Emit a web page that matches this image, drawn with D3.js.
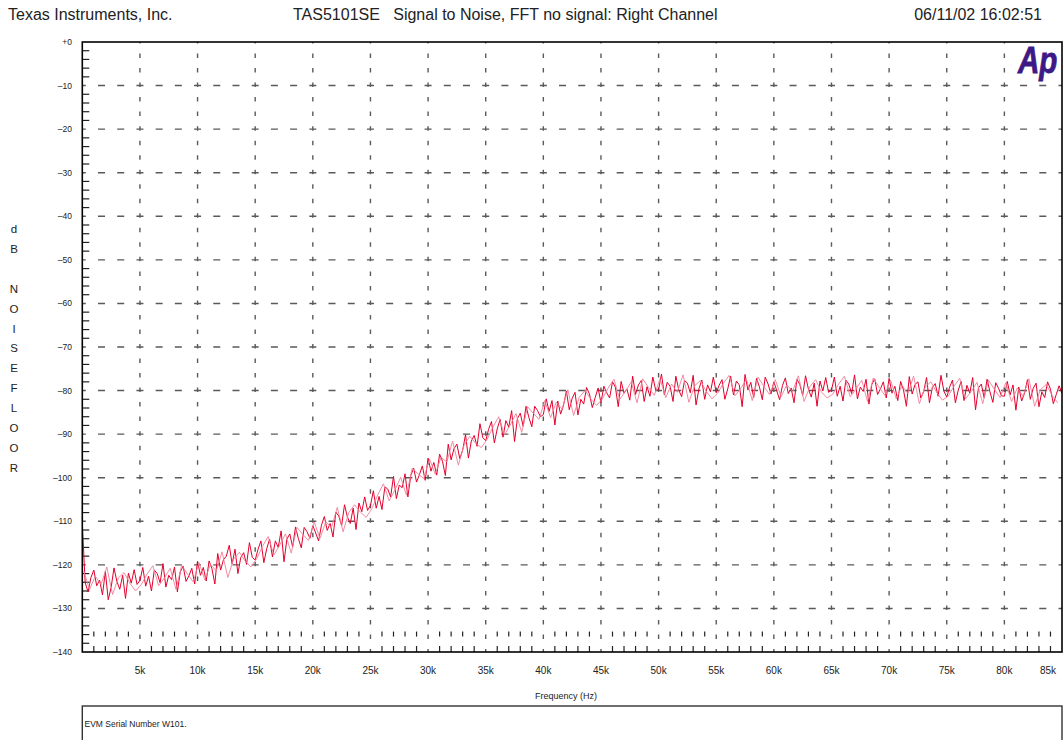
<!DOCTYPE html>
<title>TAS5101SE Signal to Noise</title>
<meta charset="utf-8">
<style>
body { margin: 0; background: #fff; }
text { font-family: "Liberation Sans", Arial, sans-serif; }
</style>
<body>
<svg width="1063" height="740"></svg>
<script src="https://d3js.org/d3.v7.min.js"></script>
<script>

// header texts
var headerLeft = "Texas Instruments, Inc.",
    headerTitle = "TAS5101SE   Signal to Noise, FFT no signal: Right Channel",
    headerDate = "06/11/02 16:02:51",
    xTitle = "Frequency (Hz)",
    yTitle = ["d", "B", "", "N", "O", "I", "S", "E", "F", "L", "O", "O", "R"],
    note = "EVM Serial Number W101.";

// axis ticks
var yTicks = [0, -10, -20, -30, -40, -50, -60, -70, -80, -90, -100, -110, -120, -130, -140];
var xTicks = [5000, 10000, 15000, 20000, 25000, 30000, 35000, 40000, 45000, 50000, 55000, 60000, 65000, 70000, 75000, 80000, 85000];

// fft noise floor, dark trace: one value every 250 Hz from 0 Hz
var darkStep = 250;
var darkDb = [
  -110.5, -124.1, -126.2, -122.9, -121.2, -124.8, -123.5, -126.9, -121.5, -128.0, -125.2, -120.7, -123.8, -125.6, -122.4, -127.7, -121.9, -124.2, -121.1, -124.5,
  -123.6, -120.6, -124.9, -122.6, -126.0, -121.2, -122.0, -124.1, -119.7, -125.1, -122.4, -123.4, -120.5, -126.2, -121.6, -120.3, -123.8, -122.5, -120.8, -124.4,
  -119.2, -122.4, -120.6, -123.7, -119.1, -120.9, -124.4, -117.4, -121.2, -118.8, -118.0, -115.5, -119.8, -116.4, -122.0, -118.3, -117.2, -119.9, -114.9, -118.3,
  -118.9, -116.4, -114.5, -119.5, -116.3, -114.1, -118.2, -114.5, -116.0, -112.2, -119.3, -114.1, -112.9, -115.9, -111.3, -114.0, -116.1, -111.4, -112.4, -113.9,
  -111.0, -112.7, -114.5, -110.9, -108.9, -112.1, -110.5, -113.6, -107.9, -108.8, -111.0, -106.2, -109.0, -110.5, -107.0, -111.9, -105.8, -107.8, -104.4, -107.5,
  -106.4, -103.0, -107.0, -104.3, -107.3, -102.1, -102.6, -104.4, -99.7, -104.8, -101.7, -102.3, -99.1, -104.4, -99.5, -97.8, -101.0, -99.3, -97.3, -100.6,
  -95.5, -98.5, -96.5, -99.4, -94.6, -96.2, -99.5, -92.3, -95.9, -93.3, -92.3, -95.6, -93.7, -90.1, -95.5, -91.6, -90.3, -92.8, -87.6, -90.8,
  -91.5, -88.9, -87.1, -92.0, -88.8, -86.6, -90.7, -86.9, -88.4, -84.6, -91.7, -86.4, -85.2, -88.2, -83.6, -86.2, -88.3, -83.6, -84.6, -86.0,
  -85.5, -81.9, -84.8, -82.3, -87.9, -82.4, -85.4, -83.4, -80.1, -84.4, -81.8, -80.4, -85.6, -82.0, -83.1, -79.3, -80.8, -83.9, -81.6, -79.4,
  -82.8, -79.0, -80.5, -81.7, -78.0, -79.2, -83.7, -77.9, -80.6, -79.6, -82.2, -76.7, -80.9, -78.7, -77.7, -82.5, -79.1, -81.3, -76.9, -79.9,
  -79.8, -76.2, -81.0, -78.1, -79.0, -82.5, -76.7, -79.9, -81.4, -77.7, -78.3, -80.5, -76.5, -83.3, -79.6, -77.6, -82.0, -78.7, -80.3, -76.9,
  -80.5, -78.8, -77.5, -82.0, -79.6, -76.7, -81.0, -77.8, -78.7, -83.7, -76.3, -79.9, -78.1, -81.6, -77.2, -79.2, -82.1, -76.9, -78.5, -80.8,
  -78.0, -80.0, -82.1, -78.8, -77.1, -80.7, -79.4, -82.8, -77.4, -78.6, -81.1, -76.6, -79.7, -81.5, -78.3, -83.6, -77.8, -80.1, -77.0, -80.4,
  -79.9, -76.9, -81.3, -79.0, -82.4, -77.6, -78.5, -80.7, -76.4, -81.9, -79.2, -80.2, -77.4, -83.1, -78.6, -77.3, -80.9, -79.6, -78.0, -81.7,
  -77.2, -80.6, -79.0, -82.3, -77.9, -79.9, -83.6, -76.8, -80.8, -78.6, -78.0, -81.7, -80.2, -77.0, -82.8, -79.3, -78.4, -81.3, -76.5, -80.1,
  -81.5, -79.2, -77.6, -82.8, -79.9, -77.9, -82.3, -78.8, -80.6, -77.0, -84.4, -79.4, -78.5, -81.7, -77.4, -80.3, -82.7, -78.2, -79.5, -81.2,
  -81.3, -77.9, -81.0, -78.7, -84.5, -79.2, -82.4, -80.6, -77.5, -82.0, -79.5, -78.3, -83.7, -80.3, -81.6, -78.0, -79.7, -83.0, -80.9, -78.9, -80.7
];

// second (lighter) trace: one value every 500 Hz from 125 Hz
var lightStart = 125, lightStep = 500;
var lightDb = [
  -121.4, -125.7, -122.6, -124.5, -120.5, -126.8, -123.0, -121.8, -124.2, -126.0,
  -124.5, -122.1, -120.2, -124.8, -123.0, -120.8, -125.6, -120.1, -122.1, -123.9,
  -119.5, -123.4, -119.9, -121.4, -117.0, -122.9, -118.7, -117.1, -119.1, -120.5,
  -118.6, -115.8, -113.5, -117.7, -115.5, -112.9, -117.3, -111.4, -113.0, -114.4,
  -110.2, -113.9, -110.1, -111.4, -106.8, -112.4, -108.0, -106.2, -107.9, -109.1,
  -107.1, -104.0, -101.4, -105.3, -102.8, -99.9, -104.0, -97.8, -99.1, -100.2,
  -95.7, -99.2, -95.3, -96.4, -91.6, -97.1, -92.5, -90.5, -92.1, -93.1,
  -91.2, -88.4, -86.0, -90.2, -87.9, -85.3, -89.6, -83.7, -85.2, -86.6,
  -82.3, -86.2, -82.7, -84.2, -79.8, -85.7, -81.5, -80.0, -82.0, -83.4,
  -81.9, -79.4, -77.4, -82.0, -80.2, -78.0, -82.8, -77.3, -79.3, -81.1,
  -77.3, -81.6, -78.5, -80.4, -76.4, -82.7, -78.9, -77.7, -80.1, -81.9,
  -80.6, -78.3, -76.5, -81.2, -79.5, -77.4, -82.3, -76.9, -79.0, -80.9,
  -77.5, -81.4, -78.7, -80.2, -76.6, -82.5, -79.1, -77.5, -80.3, -81.7,
  -80.8, -78.5, -76.7, -81.4, -79.7, -77.6, -82.5, -77.1, -79.2, -81.1,
  -77.6, -81.9, -78.8, -80.7, -76.7, -83.0, -79.2, -78.0, -80.4, -82.2,
  -81.3, -79.0, -77.2, -81.9, -80.2, -78.1, -83.0, -77.6, -79.7, -81.6,
  -78.2, -82.5, -79.4, -81.3, -77.3, -83.6, -79.8, -78.6, -81.0, -82.8
];

var svg = d3.select("svg"),
    plot = {left: 82.3, right: 1062, top: 42, bottom: 652};

var x = d3.scaleLinear().domain([0, 85000]).range([plot.left, plot.right]);
var y = d3.scaleLinear().domain([-140, 0]).range([plot.bottom, plot.top]);

// header
svg.append("text").attr("x", 8).attr("y", 20).attr("font-size", 16).attr("fill", "#222").text(headerLeft);
svg.append("text").attr("x", 293).attr("y", 20).attr("font-size", 16).attr("fill", "#222")
    .style("white-space", "pre").text(headerTitle);
svg.append("text").attr("x", 1042).attr("y", 20).attr("font-size", 16).attr("fill", "#222")
    .attr("text-anchor", "end").text(headerDate);

// horizontal dashed grid
var gridColor = "#5a5a5a";
svg.append("g").selectAll("line")
    .data(yTicks.filter(function(d) { return d < 0 && d > -140; }))
  .enter().append("line")
    .attr("x1", plot.left).attr("x2", plot.right)
    .attr("y1", function(d) { return y(d); }).attr("y2", function(d) { return y(d); })
    .attr("stroke", gridColor).attr("stroke-width", 1.4)
    .attr("stroke-dasharray", "7," + ((x(5000) - x(0)) / 3 - 7))
    .attr("stroke-dashoffset", 3.5);

// vertical dashed grid
var vPeriod = (y(-10) - y(0)) / 3;
svg.append("g").selectAll("line")
    .data(xTicks.filter(function(d) { return d < 85000; }))
  .enter().append("line")
    .attr("x1", function(d) { return x(d); }).attr("x2", function(d) { return x(d); })
    .attr("y1", plot.top).attr("y2", plot.bottom)
    .attr("stroke", gridColor).attr("stroke-width", 1.4)
    .attr("stroke-dasharray", "4.5," + (vPeriod - 4.5))
    .attr("stroke-dashoffset", 3);

// minor x marks every 1k (bottom ticks and the row above)
var minorX = d3.range(1000, 85000, 1000).filter(function(d) { return d % 5000 != 0; });
var minor = svg.append("g").attr("stroke", "#222").attr("stroke-width", 1.2);
minor.selectAll(".mb").data(minorX).enter().append("line")
    .attr("x1", function(d) { return x(d); }).attr("x2", function(d) { return x(d); })
    .attr("y1", plot.bottom).attr("y2", plot.bottom - 6);
minor.selectAll(".mr").data(minorX).enter().append("line")
    .attr("x1", function(d) { return x(d); }).attr("x2", function(d) { return x(d); })
    .attr("y1", y(-136) - 3).attr("y2", y(-136) + 2);

// minor y ticks every 2 dB on the left axis
var minorY = d3.range(-138, 0, 2).filter(function(d) { return d % 10 != 0; });
minor.selectAll(".ml").data(minorY).enter().append("line")
    .attr("x1", plot.left).attr("x2", plot.left + 7)
    .attr("y1", function(d) { return y(d); }).attr("y2", function(d) { return y(d); });

// traces
svg.append("clipPath").attr("id", "clip").append("rect")
    .attr("x", plot.left).attr("y", plot.top)
    .attr("width", plot.right - plot.left).attr("height", plot.bottom - plot.top);

var lightLine = d3.line()
    .x(function(d, i) { return x(lightStart + i * lightStep); })
    .y(function(d) { return y(d); });
var darkLine = d3.line()
    .x(function(d, i) { return x(i * darkStep); })
    .y(function(d) { return y(d); });

svg.append("path").datum(darkDb)
    .attr("clip-path", "url(#clip)")
    .attr("fill", "none").attr("stroke", "#e3002b").attr("stroke-width", 1)
    .attr("d", darkLine);
svg.append("path").datum(lightDb)
    .attr("clip-path", "url(#clip)")
    .attr("fill", "none").attr("stroke", "#f07f98").attr("stroke-width", 0.9)
    .attr("d", lightLine);

// frame
svg.append("rect")
    .attr("x", plot.left).attr("y", plot.top)
    .attr("width", plot.right - plot.left).attr("height", plot.bottom - plot.top)
    .attr("fill", "none").attr("stroke", "#000").attr("stroke-width", 1.6);

// y tick labels
svg.append("g").selectAll("text").data(yTicks).enter().append("text")
    .attr("x", 72).attr("y", function(d) { return y(d); })
    .attr("dy", "0.35em").attr("text-anchor", "end")
    .attr("font-size", 8.5).attr("fill", "#222")
    .text(function(d) { return d == 0 ? "+0" : "\u2013" + (-d); });

// x tick labels
svg.append("g").selectAll("text").data(xTicks).enter().append("text")
    .attr("x", function(d) { return d == 85000 ? x(d) - 6 : x(d); })
    .attr("y", 673.5)
    .attr("text-anchor", function(d) { return d == 85000 ? "end" : "middle"; })
    .attr("font-size", 10).attr("fill", "#222")
    .text(function(d) { return (d / 1000) + "k"; });

// axis titles
svg.append("text").attr("x", 566).attr("y", 699).attr("text-anchor", "middle")
    .attr("font-size", 9).attr("fill", "#222").text(xTitle);

svg.append("g").selectAll("text").data(yTitle).enter().append("text")
    .attr("x", 14).attr("y", function(d, i) { return 233 + i * 19.9; })
    .attr("text-anchor", "middle").attr("font-size", 11.5).attr("fill", "#222")
    .text(function(d) { return d; });

// Ap logo, squeezed a little like the original
svg.append("text").attr("transform", "translate(1018,73) scale(0.8,1)")
    .attr("font-size", 37).attr("font-weight", "bold").attr("font-style", "italic")
    .attr("fill", "#3d1886").attr("stroke", "#3d1886").attr("stroke-width", 0.8)
    .text("Ap");

// comment box
svg.append("rect").attr("x", plot.left).attr("y", 706)
    .attr("width", plot.right - plot.left).attr("height", 50)
    .attr("fill", "none").attr("stroke", "#333").attr("stroke-width", 1.4);
svg.append("text").attr("x", 84.5).attr("y", 727).attr("font-size", 8.5).attr("fill", "#222").text(note);

</script>
</body>
